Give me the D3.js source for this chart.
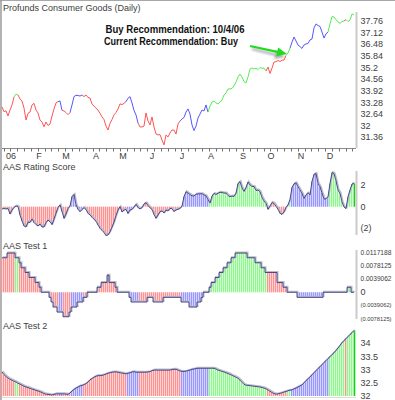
<!DOCTYPE html>
<html><head><meta charset="utf-8">
<script src="https://cdn.jsdelivr.net/npm/d3@7"></script>
<style>
html,body{margin:0;padding:0;background:#fff;overflow:hidden;}
svg{display:block;}
text{font-family:"Liberation Sans Narrow","Arial Narrow","Liberation Sans",Arial,sans-serif;}
</style></head><body>
<svg id="c" width="395" height="400"></svg>
<script>
// ---------------- DATA ----------------
const priceValues = [
33.03,32.77,32.82,32.53,32.86,33.14,33.58,33.74,33.69,33.47,
33.36,32.97,32.31,32.68,32.75,33.14,33.23,32.86,32.70,32.31,
32.20,31.94,32.20,32.01,32.09,32.53,32.92,33.25,33.32,33.36,
32.84,32.81,32.72,32.61,32.72,33.14,33.60,33.67,33.66,33.63,
33.69,33.60,33.69,33.55,33.52,33.19,33.08,32.96,32.86,32.68,
32.49,32.34,31.98,31.76,32.13,32.34,32.59,32.72,32.92,33.20,
33.16,33.23,33.32,33.51,33.60,33.25,32.84,32.59,32.15,31.93,
31.93,31.98,32.70,32.26,32.04,32.48,31.93,31.54,31.49,31.51,
31.21,30.94,31.49,31.38,31.60,31.76,31.76,31.54,32.09,32.26,
32.37,32.45,32.75,32.92,32.64,32.04,31.73,31.98,32.42,32.64,
32.86,32.81,33.14,32.75,33.08,33.30,33.36,33.25,33.19,33.30,
33.41,33.69,33.80,34.02,34.02,34.05,34.19,34.40,34.68,34.84,
34.68,34.42,34.35,34.68,35.12,35.17,35.12,35.15,35.09,35.20,
35.16,35.17,35.01,35.23,34.87,35.17,35.50,35.52,35.59,35.53,
35.61,35.61,35.86,36.00,36.26,36.60,36.88,36.66,36.44,36.35,
36.25,36.44,36.50,36.52,36.72,36.77,37.38,37.60,37.51,37.46,
37.15,36.82,37.05,37.15,37.60,38.00,37.98,37.84,37.71,37.63,
37.73,37.76,37.84,37.73,37.82,38.15,38.09];

const ratingValues = [
-0.21,-0.17,-0.21,-0.17,-0.68,-0.31,-0.07,0.06,0.02,-0.77,
-1.33,-1.79,-1.89,-1.42,-1.47,-1.14,-1.47,-1.66,-1.80,-1.61,
-1.89,-1.89,-1.47,-1.24,-1.40,-1.66,-1.14,-0.59,-0.07,0.16,
-0.44,-1.08,-0.68,-0.17,0.06,0.93,1.14,0.16,-0.24,-0.46,
-0.26,-0.09,-0.26,-0.61,-0.77,-0.98,-1.17,-1.35,-1.70,-2.01,
-2.20,-2.40,-2.68,-2.63,-2.33,-1.89,-1.42,-0.82,-0.31,0.00,
-0.49,-0.31,-0.26,-0.63,-0.31,-0.26,-0.03,0.22,-0.07,-0.21,
-0.09,0.25,0.37,0.11,-0.10,-0.26,-0.72,-1.08,-0.77,-0.45,
-0.40,-0.59,-0.31,-0.40,-0.15,-0.19,-0.45,-0.31,-0.24,-0.17,
0.06,0.93,1.39,1.27,1.13,1.01,0.99,1.16,1.19,1.20,
1.21,1.09,1.00,0.67,0.34,0.99,1.23,1.13,1.25,1.34,
1.32,1.27,1.27,1.04,0.93,0.99,0.95,1.27,2.16,2.33,
1.74,1.42,1.79,2.30,2.02,1.88,1.88,1.51,1.55,1.40,
0.86,0.53,0.30,-0.24,0.06,0.39,0.30,0.04,-0.24,-0.61,
-0.72,-0.49,-0.07,0.16,0.67,1.79,2.12,2.22,1.86,1.56,
1.25,0.76,1.09,1.29,1.09,2.35,3.00,3.09,2.16,1.86,
1.27,0.71,0.73,0.93,2.16,3.17,3.08,2.42,1.55,1.24,
0.44,-0.03,-0.17,0.93,1.55,2.11,2.16];

const test1Values = [
0.0103,0.0103,0.0103,0.0117,0.0117,0.0117,0.0117,0.0103,0.0103,0.0088,
0.0073,0.0073,0.0059,0.0059,0.0044,0.0044,0.0044,0.0029,0.0029,0.0015,
0,0,0,0,-0.0015,-0.0029,-0.0044,-0.0044,-0.0059,-0.0059,
-0.0059,-0.0073,-0.0073,-0.0073,-0.0059,-0.0044,-0.0044,-0.0044,-0.0029,-0.0029,
-0.0029,-0.0015,-0.0015,0,0,0,0,0,0.0015,0.0015,
0.0029,0.0029,0.0029,0.0051,0.0029,0.0029,0.0029,0.0015,0,0,
0,0,0,0,-0.0015,-0.0029,-0.0029,-0.0029,-0.0029,-0.0029,
-0.0029,-0.0029,-0.0029,-0.0015,-0.0015,-0.0015,-0.0029,-0.0029,-0.0029,-0.0029,
-0.0029,-0.0015,-0.0015,-0.0015,-0.0015,-0.0015,-0.0015,-0.0015,-0.0015,-0.0015,
-0.0029,-0.0029,-0.0029,-0.0029,-0.0044,-0.0044,-0.0044,-0.0044,-0.0029,-0.0029,
-0.0015,0,0,0,0.0015,0.0029,0.0029,0.0044,0.0044,0.0059,
0.0059,0.0073,0.0073,0.0088,0.0088,0.0103,0.0103,0.0117,0.0117,0.0117,
0.0117,0.0117,0.0117,0.0103,0.0103,0.0103,0.0103,0.0088,0.0088,0.0088,
0.0073,0.0073,0.0059,0.0059,0.0059,0.0059,0.0059,0.0059,0.0029,0.0029,
0.0029,0.0015,0.0015,0,0,0,0,0,-0.0015,-0.0015,
-0.0015,-0.0015,-0.0015,-0.0015,-0.0015,-0.0015,-0.0015,-0.0015,-0.0015,-0.0015,
-0.0015,0,0,0,0,0,0,0,0,0,
0,0,0,0.0015,0.0015,0,0];

const test2Values = [
32.91,32.81,32.74,32.68,32.63,32.60,32.56,32.53,32.48,32.45,
32.41,32.37,32.34,32.32,32.29,32.26,32.24,32.21,32.19,32.16,
32.13,32.09,32.07,32.06,32.05,32.04,32.06,32.08,32.08,32.08,
32.08,32.08,32.07,32.06,32.11,32.19,32.25,32.30,32.34,32.38,
32.40,32.43,32.47,32.53,32.61,32.66,32.71,32.75,32.77,32.77,
32.78,32.80,32.83,32.86,32.88,32.90,32.91,32.91,32.90,32.88,
32.87,32.85,32.84,32.86,32.88,32.91,32.92,32.90,32.90,32.90,
32.90,32.90,32.90,32.91,32.92,32.96,32.98,32.98,32.98,32.98,
32.98,32.98,32.98,32.98,32.98,33.00,33.01,33.01,32.98,32.95,
32.93,32.93,32.94,32.96,32.98,33.01,33.02,33.04,33.05,33.05,
33.05,33.05,33.05,33.05,33.05,33.05,33.05,33.02,32.98,32.96,
32.93,32.91,32.88,32.85,32.82,32.78,32.75,32.71,32.67,32.60,
32.52,32.44,32.41,32.40,32.39,32.38,32.37,32.36,32.35,32.34,
32.32,32.30,32.27,32.23,32.18,32.13,32.09,32.07,32.08,32.10,
32.12,32.15,32.17,32.20,32.22,32.23,32.27,32.30,32.34,32.38,
32.42,32.50,32.58,32.65,32.73,32.80,32.88,32.96,33.04,33.11,
33.19,33.27,33.34,33.42,33.49,33.57,33.64,33.73,33.82,33.92,
34.02,34.10,34.17,34.25,34.33,34.40,34.48];

// recommendation state per day, run-length encoded: r = sell(red), b = neutral(blue), g = buy(green)
const stateRuns = [["r",7],["g",2],["r",20],["b",2],["r",4],["b",6],["r",22],["b",6],["r",21],["b",14],
  ["g",29],["r",10],["g",2],["b",19],["g",8],["r",1],["g",4]];

const monthLabels = ["06","F","M","A","M","J","J","A","S","O","N","D"];
const monthIndex  = [4.5,18.5,32,47,60.5,75,90,104.5,120.5,134.5,149.5,164];

const priceTicks = [37.76,37.12,36.48,35.84,35.2,34.56,33.92,33.28,32.64,32,31.36];
const ratingTicks = [2,0,-2];
const ratingTickLabels = ["2","0","(2)"];
const test1Ticks = [0.0117188,0.0078125,0.0039062,0,-0.0039062,-0.0078125];
const test1TickLabels = ["0.0117188","0.0078125","0.0039062","0","(0.0039062)","(0.0078125)"];
const test2Ticks = [34,33.5,33,32.5,32];

// ---------------- CHART ----------------
const state = [];
stateRuns.forEach(([c,n]) => { for (let k=0;k<n;k++) state.push(c); });
const N = priceValues.length;
const lineCol = {r:"#ff5454", b:"#5656ff", g:"#55ec55"};
const barStrong = {r:"#ff9393", b:"#9797ff", g:"#90f690"};
const barLight = {r:"#ffd2d2", b:"#d4d4ff", g:"#d2ffd2"};
const txtCol = "#404040";

const svg = d3.select("#c");
const x = d3.scaleLinear().domain([0, N-1]).range([2, 354]);

// frame
svg.append("line").attr("x1",0).attr("x2",395).attr("y1",0.5).attr("y2",0.5).attr("stroke","#a8a8a8");
svg.append("line").attr("x1",1).attr("x2",1).attr("y1",0).attr("y2",400).attr("stroke","#9a9a9a").attr("stroke-width",1.5);

function title(t, yb){
  svg.append("text").attr("x",3).attr("y",yb).attr("font-size",9).attr("fill",txtCol).text(t);
}
function rightAxis(y1,y2){
  svg.append("line").attr("x1",356.5).attr("x2",356.5).attr("y1",y1).attr("y2",y2)
    .attr("stroke","#cbcbcb").attr("stroke-width",2);
}
function tickLabels(vals, labels, y){
  svg.append("g").selectAll("text").data(vals).join("text")
    .attr("x",360.5).attr("y",d=>y(d)).attr("dy","0.35em")
    .attr("font-size",9).attr("fill",txtCol)
    .text((d,i)=>labels[i])
    .each(function(){
      const w = this.getComputedTextLength();
      const maxW = 31;
      if (w > maxW) d3.select(this).attr("font-size", (9*maxW/w).toFixed(2));
    });
}

// ----- Panel 1: price -----
title("Profunds Consumer Goods (Daily)", 10.5);
const yP = d3.scaleLinear().domain([31.36,37.76]).range([137.3,21]);
rightAxis(12,148);
tickLabels(priceTicks, priceTicks.map(d=>String(d)), yP);

// x axis
svg.append("line").attr("x1",2).attr("x2",356).attr("y1",148.5).attr("y2",148.5).attr("stroke","#8a8a8a");
const weekTicks = d3.range(0.8, N, 3.42);
svg.append("g").selectAll("line").data(weekTicks).join("line")
  .attr("x1",d=>Math.round(x(d))+0.5).attr("x2",d=>Math.round(x(d))+0.5)
  .attr("y1",148.5).attr("y2",151.5).attr("stroke","#707070");
svg.append("g").selectAll("text").data(monthIndex).join("text")
  .attr("x",d=>x(d)).attr("y",158.5).attr("text-anchor","middle")
  .attr("font-size",9).attr("fill",txtCol).text((d,i)=>monthLabels[i]);

// price line coloured by state runs
const lineP = d3.line().x(i=>x(i)).y(i=>yP(priceValues[i]));
let s0 = 0;
const runs = [];
for (let i=1;i<=N;i++){ if (i===N || state[i]!==state[s0]) { runs.push([s0,i-1]); s0=i; } }
const gP = svg.append("g");
runs.forEach(([a,b])=>{
  gP.append("path").attr("d", lineP(d3.range(Math.max(0,a-1), b+1)))
    .attr("fill","none").attr("stroke",lineCol[state[a]]).attr("stroke-width",1);
});

// annotation
const defs = svg.append("defs");
defs.append("filter").attr("id","blur").append("feGaussianBlur").attr("stdDeviation",1.3);
const tipI = 142;
const tip = [x(tipI)+1, yP(priceValues[tipI])-1.5];
const tail = [tip[0]-37, tip[1]-8];
function arrowPath(t, s){
  const dx=t[0]-s[0], dy=t[1]-s[1], L=Math.hypot(dx,dy), ux=dx/L, uy=dy/L, px=-uy, py=ux;
  const hb=[t[0]-ux*10, t[1]-uy*10];
  return `M${s[0]+px*1.1},${s[1]+py*1.1} L${hb[0]+px*1.1},${hb[1]+py*1.1} L${hb[0]+px*4.5},${hb[1]+py*4.5} L${t[0]},${t[1]} L${hb[0]-px*4.5},${hb[1]-py*4.5} L${hb[0]-px*1.1},${hb[1]-py*1.1} L${s[0]-px*1.1},${s[1]-py*1.1} Z`;
}
svg.append("path").attr("d", arrowPath([tip[0]-2,tip[1]+3],[tail[0]+2,tail[1]+3]))
  .attr("fill","#8a8a8a").attr("opacity",0.7).attr("filter","url(#blur)");
svg.append("path").attr("d", arrowPath(tip, tail)).attr("fill","#1fdc1f");

svg.append("text").attr("x",105.5).attr("y",33).attr("font-size",10).attr("font-weight","bold")
  .attr("fill","#111").attr("textLength",139).attr("lengthAdjust","spacingAndGlyphs")
  .attr("style","font-family:'Liberation Sans',Arial,sans-serif").text("Buy Recommendation: 10/4/06");
svg.append("text").attr("x",104).attr("y",44.5).attr("font-size",10).attr("font-weight","bold")
  .attr("fill","#111").attr("textLength",134).attr("lengthAdjust","spacingAndGlyphs")
  .attr("style","font-family:'Liberation Sans',Arial,sans-serif").text("Current Recommendation: Buy");

// ----- bar panels -----
function barPanel(vals, y, base, curve, lastGreen){
  const g = svg.append("g");
  const y0 = y(base);
  g.selectAll("rect.l").data(vals).join("rect").attr("class","l")
    .attr("x",(d,i)=>x(i)-1).attr("width",2)
    .attr("y",d=>Math.min(y(d),y0)).attr("height",d=>Math.abs(y(d)-y0))
    .attr("fill",(d,i)=>barLight[state[i]]);
  g.selectAll("rect.s").data(vals).join("rect").attr("class","s")
    .attr("x",(d,i)=>x(i)-1).attr("width",1)
    .attr("y",d=>Math.min(y(d),y0)).attr("height",d=>Math.abs(y(d)-y0))
    .attr("fill",(d,i)=>barStrong[state[i]]);
  if (lastGreen){
    const d = vals[N-1];
    g.append("rect").attr("x",x(N-1)).attr("width",1.3)
      .attr("y",Math.min(y(d),y0)).attr("height",Math.abs(y(d)-y0)).attr("fill","#1ccc1c");
  }
  const ln = d3.line().x((d,i)=>x(i)).y(d=>y(d)).curve(curve);
  g.append("path").attr("d",ln(vals)).attr("fill","none").attr("stroke","#bcbcc8").attr("stroke-width",1.5)
    .attr("transform","translate(0.8,-0.8)");
  g.append("path").attr("d",ln(vals)).attr("fill","none").attr("stroke","#3a3a86").attr("stroke-width",0.9);
}

// ----- Panel 2: rating -----
title("AAS Rating Score", 169.5);
const yR = d3.scaleLinear().domain([-2,2]).range([228.2,185.2]);
barPanel(ratingValues, yR, 0, d3.curveLinear, true);
rightAxis(171,235);
tickLabels(ratingTicks, ratingTickLabels, yR);

// ----- Panel 3: test 1 -----
title("AAS Test 1", 248.5);
const yT1 = d3.scaleLinear().domain([-0.0078125,0.0117188]).range([318.5,253]);
barPanel(test1Values, yT1, 0, d3.curveStep, false);
rightAxis(250,319);
tickLabels(test1Ticks, test1TickLabels, yT1);

// ----- Panel 4: test 2 -----
title("AAS Test 2", 328.5);
const yT2 = d3.scaleLinear().domain([32,34]).range([396,343.2]);
barPanel(test2Values, yT2, 32, d3.curveLinear, true);
svg.append("line").attr("x1",2).attr("x2",356).attr("y1",397.5).attr("y2",397.5).attr("stroke","#e2ddd0");
tickLabels(test2Ticks, test2Ticks.map(String), yT2);
</script>
</body></html>
